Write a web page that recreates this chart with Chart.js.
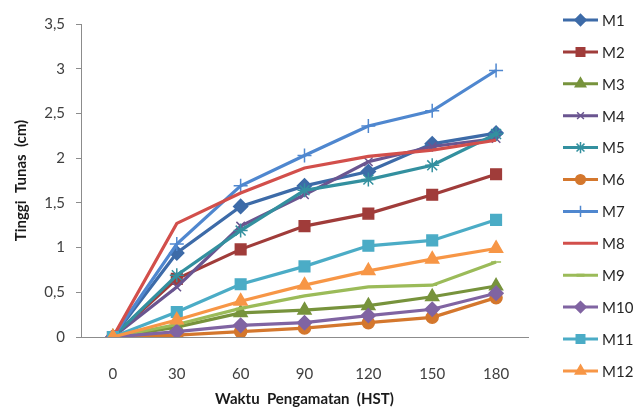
<!DOCTYPE html>
<html>
<head>
<meta charset="utf-8">
<script src="https://cdn.jsdelivr.net/npm/chart.js@4.4.1/dist/chart.umd.min.js"></script>
<style>
  html, body { margin: 0; padding: 0; background: #ffffff; }
  #wrap { width: 633px; height: 409px; }
</style>
</head>
<body>
<div id="wrap"><canvas id="chart" width="633" height="409"></canvas></div>
<script>
// Observation days (HST)
const days = ['0', '30', '60', '90', '120', '150', '180'];

// Shoot height (cm) per treatment
const M1  = [0, 0.94, 1.46, 1.69, 1.85, 2.16, 2.28];
const M2  = [0, 0.65, 0.98, 1.24, 1.38, 1.59, 1.82];
const M3  = [0, 0.11, 0.27, 0.30, 0.35, 0.45, 0.57];
const M4  = [0, 0.56, 1.24, 1.59, 1.96, 2.13, 2.22];
const M5  = [0, 0.69, 1.19, 1.64, 1.76, 1.92, 2.27];
const M6  = [0, 0.02, 0.06, 0.10, 0.16, 0.22, 0.44];
const M7  = [0, 1.04, 1.69, 2.03, 2.36, 2.53, 2.98];
const M8  = [0, 1.27, 1.61, 1.89, 2.02, 2.09, 2.20];
const M9  = [0, 0.14, 0.32, 0.46, 0.56, 0.58, 0.84];
const M10 = [0, 0.06, 0.13, 0.16, 0.24, 0.31, 0.49];
const M11 = [0, 0.28, 0.59, 0.79, 1.02, 1.08, 1.31];
const M12 = [0, 0.19, 0.40, 0.58, 0.74, 0.87, 0.99];

const seriesNames = ['M1','M2','M3','M4','M5','M6','M7','M8','M9','M10','M11','M12'];
const seriesValues = [M1, M2, M3, M4, M5, M6, M7, M8, M9, M10, M11, M12];

// Y axis range
const yMin = 0, yMax = 3.5, yStep = 0.5;

// Styling per treatment
const colors  = ['#3D6BA8','#A03C3A','#77933C','#6A5590','#33909F','#D4772D',
                 '#4F87CF','#D24F4B','#9BBB59','#8064A2','#4BACC6','#F79646'];
const markers = ['rectRot','rect','triangle','crossRot','star','circle',
                 'cross',false,'line','rectRot','rect','triangle'];
const radii   = [7, 7.5, 7.5, 6, 7, 6, 7, 0, 5, 7, 7.5, 7.5];

const FONT = 'Lato, "Noto Sans", sans-serif';

const datasets = seriesNames.map((name, i) => ({
  label: name,
  data: seriesValues[i],
  borderColor: colors[i],
  backgroundColor: colors[i],
  borderWidth: 3.2,
  tension: 0,
  pointStyle: markers[i],
  pointRadius: markers[i] === false ? 0 : radii[i],
  pointHoverRadius: markers[i] === false ? 0 : radii[i],
  pointBorderColor: colors[i],
  pointBackgroundColor: colors[i],
  pointBorderWidth: 1.5,
  order: seriesNames.length - i
}));

// Legend on the right: a short line with the marker in the middle
const sideLegend = {
  id: 'sideLegend',
  afterDraw(chart) {
    const ctx = chart.ctx;
    const x0 = 563, x1 = 598, top = 20, gap = 31.9;
    chart.data.datasets.forEach((ds, i) => {
      const y = top + i * gap;
      ctx.save();
      ctx.strokeStyle = ds.borderColor;
      ctx.lineWidth = 3;
      ctx.beginPath();
      ctx.moveTo(x0, y);
      ctx.lineTo(x1, y);
      ctx.stroke();
      if (ds.pointStyle) {
        ctx.fillStyle = ds.pointBackgroundColor;
        ctx.strokeStyle = ds.pointBorderColor;
        ctx.lineWidth = ds.pointStyle === 'line' ? 3 : 1.5;
        Chart.helpers.drawPoint(ctx, {
          pointStyle: ds.pointStyle,
          radius: ds.pointRadius * 0.8,
          rotation: 0,
          borderWidth: ctx.lineWidth
        }, (x0 + x1) / 2, y);
      }
      ctx.fillStyle = '#262626';
      ctx.font = '15px ' + FONT;
      ctx.textAlign = 'left';
      ctx.textBaseline = 'middle';
      ctx.fillText(ds.label, x1 + 4, y + 1);
      ctx.restore();
    });
  }
};

new Chart(document.getElementById('chart'), {
  type: 'line',
  data: { labels: days, datasets },
  plugins: [sideLegend],
  options: {
    responsive: false,
    animation: false,
    devicePixelRatio: 1,
    layout: { padding: { top: 24, right: 105, bottom: 0, left: 0 } },
    plugins: { legend: { display: false }, tooltip: { enabled: false } },
    scales: {
      x: {
        offset: true,
        grid: { display: false },
        border: { display: true, color: '#8C8C8C', width: 1 },
        ticks: { color: '#404040', font: { family: FONT, size: 15 }, padding: 20, maxRotation: 0 },
        title: {
          display: true,
          text: 'Waktu  Pengamatan  (HST)',
          color: '#1a1a1a',
          font: { family: FONT, size: 15, weight: 'bold' },
          padding: { top: 0, bottom: 1 }
        },
        afterFit(scale) { scale.height = 72; }
      },
      y: {
        min: yMin,
        max: yMax,
        grid: { drawOnChartArea: false, drawTicks: true, tickLength: 5, color: '#8C8C8C' },
        border: { display: true, color: '#8C8C8C', width: 1 },
        ticks: {
          stepSize: yStep,
          color: '#404040',
          font: { family: FONT, size: 15 },
          padding: 11,
          callback: v => String(v).replace('.', ',')
        },
        title: {
          display: true,
          text: 'Tinggi  Tunas  (cm)',
          color: '#1a1a1a',
          font: { family: FONT, size: 15, weight: 'bold' },
          padding: { top: 12, bottom: 0 }
        },
        afterFit(scale) { scale.width = 81; }
      }
    }
  }
});
</script>
</body>
</html>
